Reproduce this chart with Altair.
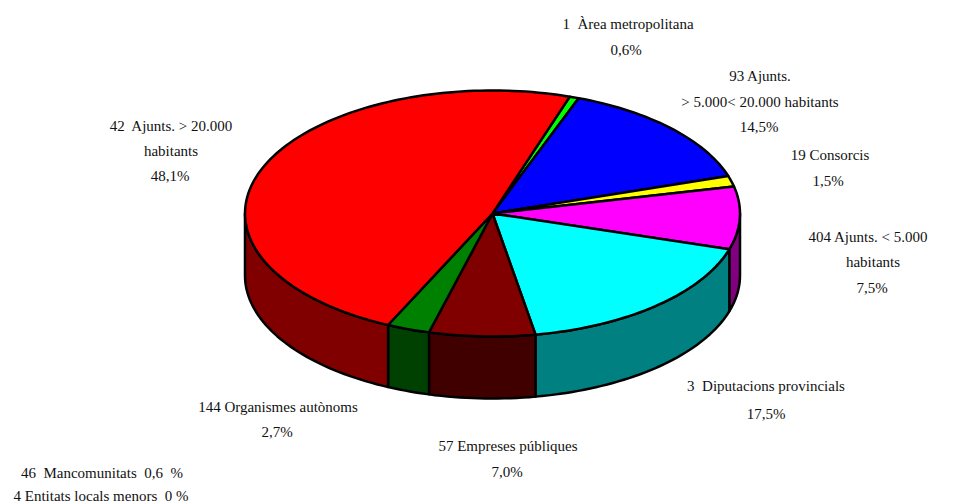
import math
import altair as alt

# Slices clockwise from the top-right, shares (% of the pie)
slice_names = ["Àrea metropolitana", "Ajunts. 5.000-20.000", "Consorcis", "Ajunts. < 5.000",
               "Diputacions provincials", "Empreses públiques", "Organismes autònoms", "Ajunts. > 20.000"]
slice_shares = [0.6, 14.4, 1.4, 8.2, 17.5, 6.9, 2.8, 48.05]
top_colors = ["#00ff00", "#0000ff", "#ffff00", "#ff00ff", "#00ffff", "#800000", "#008000", "#ff0000"]
wall_colors = ["#008000", "#000080", "#808000", "#800080", "#008080", "#400000", "#004000", "#800000"]

# Labels around the pie
label_text = ["1\u00a0 Àrea metropolitana", "0,6%",
              "93 Ajunts.", "> 5.000< 20.000 habitants", "14,5%",
              "19 Consorcis", "1,5%",
              "404 Ajunts. < 5.000", "habitants", "7,5%",
              "3\u00a0 Diputacions provincials", "17,5%",
              "144 Organismes autònoms", "2,7%",
              "57 Empreses públiques", "7,0%",
              "42\u00a0 Ajunts. > 20.000", "habitants", "48,1%"]
label_x = [628, 626, 760, 760, 759, 830, 828, 868, 873, 872, 766, 766, 278, 277, 508, 507, 171, 171, 170]
label_y = [29, 55, 81, 107, 132, 160, 186, 242, 267, 293, 391, 419, 412, 437, 451, 477, 131, 156, 181]

# Notes at the bottom left
note_text = ["46\u00a0 Mancomunitats\u00a0 0,6\u00a0 %", "4 Entitats locals menors\u00a0 0 %"]
note_x = [102, 101]
note_y = [478, 501]

W, H = 938, 496
OX, OY = 8, 8
CX, CY, RX, RY, DEPTH = 492.5, 213.5, 247.5, 123.0, 62.0
START = 18.2


def pt(a, dz=0.0):
    r = math.radians(a)
    return [CX + RX * math.sin(r) - OX, CY - RY * math.cos(r) + dz - OY]


def arc(a0, a1, dz=0.0):
    n = max(2, int(abs(a1 - a0) / 1.5) + 2)
    return [pt(a0 + (a1 - a0) * i / (n - 1), dz) for i in range(n)]


def feature(ring, color, name):
    ring = ring + [ring[0]]
    return {"type": "Feature", "geometry": {"type": "Polygon", "coordinates": [ring]},
            "properties": {"color": color, "name": name}}


total = sum(slice_shares)
walls, tops = [], []
a = START
for name, share, tc, wc in zip(slice_names, slice_shares, top_colors, wall_colors):
    b = a + share / total * 360
    lo, hi = max(a, 90), min(b, 270)
    if hi > lo:
        walls.append(feature(arc(lo, hi) + arc(hi, lo, DEPTH), wc, name))
    tops.append(feature([[CX - OX, CY - OY]] + arc(a, b), tc, name))
    a = b

pie = alt.Chart(alt.Data(values=walls + tops)).mark_geoshape(
    stroke="black", strokeWidth=2.5, strokeJoin="round"
).encode(
    fill=alt.Fill("properties.color:N", scale=None)
).project(type="identity", scale=1, translate=[0, 0])

xs = alt.X("x:Q", scale=alt.Scale(domain=[0, W], range=[0, W]), axis=None)
ys = alt.Y("y:Q", scale=alt.Scale(domain=[0, H], range=[0, H]), axis=None)


def text_layer(texts, px, py):
    rows = [{"t": t, "x": x - OX, "y": y - OY} for t, x, y in zip(texts, px, py)]
    return alt.Chart(alt.Data(values=rows)).mark_text(
        font="Liberation Serif", fontSize=15, color="#111111", align="center", baseline="alphabetic"
    ).encode(x=xs, y=ys, text="t:N")


labels = text_layer(label_text, label_x, label_y)
notes = text_layer(note_text, note_x, note_y)

chart = alt.layer(pie, labels, notes).resolve_scale(x="shared", y="shared").properties(
    width=W, height=H, padding=0, autosize=alt.AutoSizeParams(type="none")
).configure_view(stroke=None)

chart.save("out.html", embed_options={"renderer": "svg", "actions": False})
